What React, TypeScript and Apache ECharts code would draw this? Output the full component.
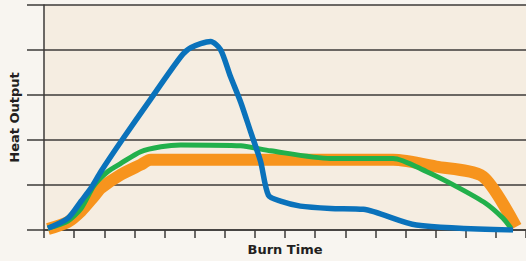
import React, { useEffect, useRef } from "react";
import * as echarts from "echarts";

const yTicks = [0, 1, 2, 3, 4, 5];
const xMax = 16;

const blueX = [0.13, 0.79, 1.23, 1.56, 1.89, 2.55, 3.54, 4.54, 4.87, 5.53, 5.86, 6.19, 6.53, 6.86, 7.19, 7.45, 7.85, 8.51, 9.51, 10.6, 12.36, 15.57];
const blueY = [0.04, 0.26, 0.64, 0.93, 1.3, 1.96, 2.91, 3.85, 4.05, 4.19, 4.01, 3.41, 2.84, 2.18, 1.52, 0.77, 0.64, 0.53, 0.48, 0.46, 0.11, 0.0];

const greenX = [0.13, 0.79, 1.23, 1.66, 2.12, 2.55, 3.21, 3.88, 4.54, 6.53, 7.52, 9.51, 11.59, 12.69, 13.68, 14.67, 15.24, 15.5];
const greenY = [0.04, 0.2, 0.48, 0.99, 1.3, 1.48, 1.74, 1.85, 1.89, 1.87, 1.76, 1.59, 1.59, 1.3, 0.97, 0.59, 0.26, 0.04];

const orangeX = [0.13, 0.79, 1.23, 1.66, 1.89, 2.55, 3.21, 3.54, 11.59, 13.02, 14.57, 15.67];
const orangeY = [0.02, 0.18, 0.42, 0.75, 0.93, 1.23, 1.45, 1.56, 1.56, 1.41, 1.19, 0.07];

const zip = (xs: number[], ys: number[]) => xs.map((x, i) => [x, ys[i]]);

export default function App() {
  const ref = useRef<HTMLDivElement>(null);
  useEffect(() => {
    document.body.style.margin = "0";
    const chart = echarts.init(ref.current!, undefined, { renderer: "svg" });
    const gridColor = "#3c3a38";
    const nameStyle = { fontFamily: "DejaVu Sans", fontWeight: "bold", fontSize: 13, color: "#231f20" };
    chart.setOption({
      animation: false,
      backgroundColor: "#f8f5f0",
      grid: {
        left: 43,
        right: 0,
        top: 5,
        bottom: 29,
        show: true,
        backgroundColor: "#f5ede1",
        borderWidth: 0,
      },
      xAxis: {
        type: "value",
        min: 0,
        max: xMax,
        interval: 1,
        name: "Burn Time",
        nameLocation: "middle",
        nameGap: 13,
        nameTextStyle: nameStyle,
        axisLine: { show: true, onZero: false, lineStyle: { color: gridColor, width: 1.5 } },
        axisTick: { show: true, length: 8, lineStyle: { color: gridColor, width: 1.5 } },
        axisLabel: { show: false },
        splitLine: { show: false },
      },
      yAxis: {
        type: "value",
        min: yTicks[0],
        max: yTicks[yTicks.length - 1],
        interval: 1,
        name: "Heat Output",
        nameLocation: "middle",
        nameGap: 23,
        nameRotate: 90,
        nameTextStyle: nameStyle,
        axisLine: { show: true, lineStyle: { color: gridColor, width: 1.5 } },
        axisTick: { show: true, length: 17, lineStyle: { color: gridColor, width: 1.5 } },
        axisLabel: { show: false },
        splitLine: { show: true, lineStyle: { color: gridColor, width: 1.5 } },
      },
      series: [
        {
          type: "line",
          data: zip(orangeX, orangeY),
          smooth: 0.25,
          showSymbol: false,
          lineStyle: { color: "#f7941d", width: 12, cap: "butt" },
          z: 2,
        },
        {
          type: "line",
          data: zip(greenX, greenY),
          smooth: 0.25,
          showSymbol: false,
          lineStyle: { color: "#22b04b", width: 5 },
          z: 3,
        },
        {
          type: "line",
          data: zip(blueX, blueY),
          smooth: 0.25,
          showSymbol: false,
          lineStyle: { color: "#0a72bb", width: 5.5 },
          z: 4,
        },
      ],
    });
    return () => chart.dispose();
  }, []);
  return <div ref={ref} style={{ width: 526, height: 261 }} />;
}
